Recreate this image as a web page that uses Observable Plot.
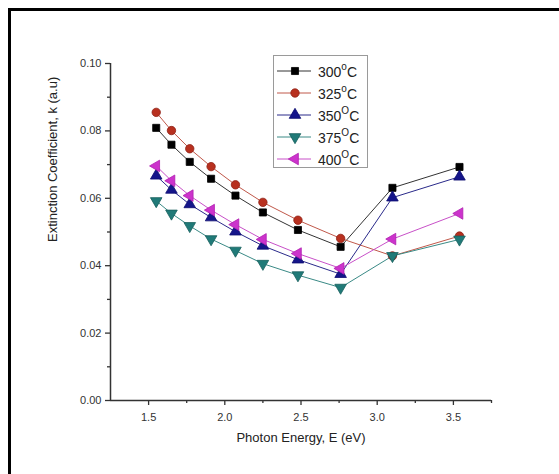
<!DOCTYPE html>
<html>
<head>
<meta charset="utf-8">
<script src="https://cdn.jsdelivr.net/npm/d3@7"></script>
<script src="https://cdn.jsdelivr.net/npm/@observablehq/plot@0.6"></script>
<style>
  body { margin: 0; background: white; }
  #wrap { position: relative; width: 559px; height: 474px; overflow: hidden; font-family: "Liberation Sans", Arial, sans-serif; }
  #frame { position: absolute; left: 8px; top: 8px; width: 600px; height: 600px; border-top: 3px solid #000; border-left: 3px solid #000; pointer-events: none; }
  #legend { position: absolute; left: 273px; top: 55px; width: 95px; height: 113px; border: 1px solid #9a9a9a; background: white; box-sizing: border-box; }
  .row { position: absolute; left: 0; height: 20px; display: flex; align-items: center; font-size: 14px; color: #222; }
  .row svg { display: block; }
  .row sup { font-size: 10px; position: relative; top: -1px; }
</style>
</head>
<body>
<div id="wrap">
  <div id="chart"></div>
  <div id="legend"></div>
  <div id="frame"></div>
</div>
<script>
// ---- data ----
const energy = [1.55, 1.65, 1.77, 1.91, 2.07, 2.25, 2.48, 2.76, 3.10, 3.54];
const k300 = [0.0809, 0.0759, 0.0708, 0.0658, 0.0608, 0.0558, 0.0506, 0.0456, 0.0631, 0.0693];
const k325 = [0.0855, 0.0801, 0.0747, 0.0694, 0.0640, 0.0588, 0.0535, 0.0481, 0.0429, 0.0488];
const k350 = [0.0667, 0.0625, 0.0582, 0.0543, 0.0501, 0.0459, 0.0418, 0.0375, 0.0602, 0.0664];
const k375 = [0.0592, 0.0555, 0.0518, 0.0479, 0.0445, 0.0406, 0.0372, 0.0335, 0.0429, 0.0478];
const k400 = [0.0696, 0.0652, 0.0608, 0.0565, 0.0522, 0.0478, 0.0436, 0.0392, 0.0479, 0.0555];
const seriesNames = ["300", "325", "350", "375", "400"];
const seriesDegree = ["o", "o", "O", "O", "O"];
const seriesValues = [k300, k325, k350, k375, k400];
const xMajorTicks = [1.5, 2.0, 2.5, 3.0, 3.5];
const xMinorTicks = [1.75, 2.25, 2.75, 3.25, 3.75];
const yMajorTicks = [0, 0.02, 0.04, 0.06, 0.08, 0.10];
const yMinorTicks = [0.01, 0.03, 0.05, 0.07, 0.09];
const xLabel = "Photon Energy, E (eV)";
const yLabel = "Extinction Coefficient, k (a.u)";

// ---- styles ----
const fills = ["#000000", "#b8301f", "#15158a", "#207a78", "#cc33cc"];
const strokes = ["#000000", "#8e2014", "#0d0d70", "#175f5d", "#b020b0"];
const lineColors = ["#333333", "#c0584a", "#2a2a8a", "#3a8a86", "#c850c8"];
const symbols = ["square", "circle", "triangle", "triangle", "triangle"];
const rotations = [0, 0, 0, 180, -90];
const radii = [4, 4.2, 4.3, 4.3, 4.3];

const data = seriesNames.flatMap((s, i) => energy.map((e, j) => ({ s, E: e, k: seriesValues[i][j] })));

const marks = [];
seriesNames.forEach((s, i) => {
  const d = data.filter(r => r.s === s);
  marks.push(Plot.line(d, { x: "E", y: "k", stroke: lineColors[i], strokeWidth: 1 }));
});
seriesNames.forEach((s, i) => {
  const d = data.filter(r => r.s === s);
  marks.push(Plot.dot(d, { x: "E", y: "k", symbol: () => symbols[i], r: radii[i], fill: fills[i], stroke: strokes[i], strokeWidth: 0.8, rotate: rotations[i] }));
});

const chart = Plot.plot({
  width: 559,
  height: 474,
  marginLeft: 110,
  marginRight: 68,
  marginTop: 63,
  marginBottom: 74,
  style: { fontFamily: "Liberation Sans, Arial, sans-serif", fontSize: "11px", color: "#333", background: "white" },
  x: { domain: [1.25, 3.75] },
  y: { domain: [0, 0.10] },
  symbol: { type: "identity" },
  marks: [
    Plot.axisX({ ticks: xMajorTicks, tickFormat: d3.format(".1f"), tickSize: 5, tickPadding: 8, label: null, strokeWidth: 1.3 }),
    Plot.axisX({ ticks: xMinorTicks, tickSize: 3, text: null, label: null, strokeWidth: 1.3 }),
    Plot.axisY({ ticks: yMajorTicks, tickFormat: d3.format(".2f"), tickSize: 5, tickPadding: 4, label: null, strokeWidth: 1.3 }),
    Plot.axisY({ ticks: yMinorTicks, tickSize: 3, text: null, label: null, strokeWidth: 1.3 }),
    Plot.ruleX([1.25], { stroke: "#333", strokeWidth: 1.5 }),
    Plot.ruleY([0], { stroke: "#333", strokeWidth: 1.5 }),
    Plot.text([xLabel], { frameAnchor: "bottom", dy: 41, fontSize: 13, fill: "#222" }),
    Plot.text([yLabel], { frameAnchor: "left", dx: -58, dy: 10, rotate: -90, fontSize: 13, fill: "#222" }),
    ...marks
  ]
});
document.getElementById("chart").appendChild(chart);

// ---- legend ----
const legend = d3.select("#legend");
seriesNames.forEach((s, i) => {
  const row = legend.append("div").attr("class", "row").style("top", (5 + i * 22) + "px");
  const svg = row.append("svg").attr("width", 44).attr("height", 20);
  svg.append("line").attr("x1", 3).attr("x2", 37).attr("y1", 10).attr("y2", 10).attr("stroke", lineColors[i]).attr("stroke-width", 1);
  const sym = { square: d3.symbolSquare, circle: d3.symbolCircle, triangle: d3.symbolTriangle }[symbols[i]];
  svg.append("path")
    .attr("d", d3.symbol(sym, Math.PI * radii[i] * radii[i])())
    .attr("transform", `translate(21,10) rotate(${rotations[i]})`)
    .attr("fill", fills[i]).attr("stroke", strokes[i]).attr("stroke-width", 0.8);
  const t = row.append("span");
  t.append("span").text(s);
  t.append("sup").text(seriesDegree[i]);
  t.append("span").text("C");
});
</script>
</body>
</html>
